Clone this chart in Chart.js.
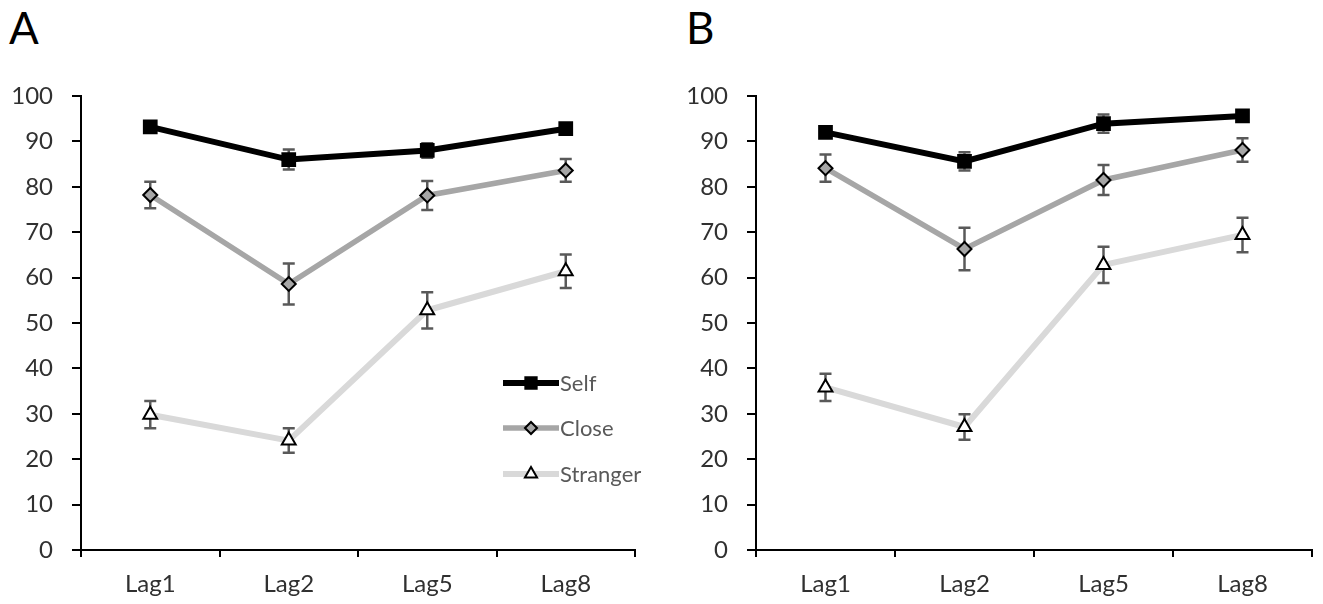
<!DOCTYPE html>
<html>
<head>
<meta charset="utf-8">
<script src="https://cdn.jsdelivr.net/npm/chart.js@4"></script>
<style>
  html, body { margin: 0; padding: 0; background: #fff; }
  body { width: 1323px; height: 604px; position: relative; overflow: hidden; font-family: Lato, "Open Sans", sans-serif; }
  .panel { position: absolute; top: 0; height: 604px; }
  .letter { position: absolute; top: 1px; font-size: 44px; color: #000; }
</style>
</head>
<body>
<div class="letter" style="left:9px">A</div>
<div class="letter" style="left:686px">B</div>
<div class="panel" style="left:0;width:675px"><canvas id="chartA"></canvas></div>
<div class="panel" style="left:675px;width:648px"><canvas id="chartB"></canvas></div>
<script>
// ─── DATA ───
const lags = ['Lag1', 'Lag2', 'Lag5', 'Lag8'];
const seriesNames = ['Self', 'Close', 'Stranger'];

const selfA = [93.2, 86.0, 88.0, 92.8];
const closeA = [78.2, 58.6, 78.1, 83.6];
const strangerA = [29.8, 24.1, 52.8, 61.4];
const selfErrA = [1.0, 2.2, 1.6, 1.0];
const closeErrA = [2.9, 4.5, 3.2, 2.5];
const strangerErrA = [3.0, 2.7, 4.0, 3.7];

const selfB = [92.0, 85.6, 93.9, 95.6];
const closeB = [84.1, 66.3, 81.5, 88.1];
const strangerB = [35.8, 27.1, 62.8, 69.4];
const selfErrB = [1.0, 2.0, 2.0, 1.0];
const closeErrB = [3.0, 4.7, 3.3, 2.6];
const strangerErrB = [3.0, 2.8, 4.0, 3.8];

const yTicks = [0, 10, 20, 30, 40, 50, 60, 70, 80, 90, 100];

// ─── STYLES ───
const styles = [
  { line: '#000000', width: 6, point: 'rect', radius: 9, fill: '#000000' },
  { line: '#a6a6a6', width: 5.5, point: 'rectRot', radius: 7, fill: '#a6a6a6' },
  { line: '#d9d9d9', width: 6, point: 'triangle', radius: 8, fill: '#ffffff' }
];

function makeDatasets(values, errs) {
  return values.map((v, i) => ({
    label: seriesNames[i],
    data: v,
    errors: errs[i],
    borderColor: styles[i].line,
    borderWidth: styles[i].width,
    pointStyle: styles[i].point,
    pointRadius: styles[i].radius,
    pointBackgroundColor: styles[i].fill,
    pointBorderColor: '#000',
    pointBorderWidth: 2,
    tension: 0,
    order: 3 - i
  }));
}

// ─── ERROR BARS ───
const errorBars = {
  id: 'errorBars',
  beforeDatasetsDraw(chart) {
    const ctx = chart.ctx, y = chart.scales.y;
    ctx.save();
    ctx.strokeStyle = '#595959';
    ctx.lineWidth = 2.5;
    chart.data.datasets.forEach((ds, di) => {
      chart.getDatasetMeta(di).data.forEach((pt, i) => {
        const v = ds.data[i], e = ds.errors[i];
        const top = y.getPixelForValue(v + e), bot = y.getPixelForValue(v - e);
        ctx.beginPath();
        ctx.moveTo(pt.x, top); ctx.lineTo(pt.x, bot);
        ctx.moveTo(pt.x - 6, top); ctx.lineTo(pt.x + 6, top);
        ctx.moveTo(pt.x - 6, bot); ctx.lineTo(pt.x + 6, bot);
        ctx.stroke();
      });
    });
    ctx.restore();
  }
};

// ─── LEGEND (panel A only) ───
const innerLegend = {
  id: 'innerLegend',
  afterDraw(chart, args, opts) {
    if (!opts.show) return;
    const ctx = chart.ctx;
    const rows = [383, 428, 474];
    chart.data.datasets.forEach((ds, i) => {
      const yy = rows[i];
      ctx.save();
      ctx.strokeStyle = ds.borderColor;
      ctx.lineWidth = ds.borderWidth;
      ctx.beginPath();
      ctx.moveTo(503, yy); ctx.lineTo(559, yy);
      ctx.stroke();
      ctx.fillStyle = ds.pointBackgroundColor;
      ctx.strokeStyle = '#000';
      ctx.lineWidth = 2;
      Chart.helpers.drawPoint(ctx, { pointStyle: ds.pointStyle, radius: ds.pointRadius - 1, borderWidth: 2 }, 531, yy);
      ctx.fillStyle = '#595959';
      ctx.font = '22px Lato, "Open Sans", sans-serif';
      ctx.textBaseline = 'middle';
      ctx.fillText(ds.label, 560, yy + 1);
      ctx.restore();
    });
  }
};

function makeChart(id, values, errs, padRight, showLegend) {
  return new Chart(document.getElementById(id), {
    type: 'line',
    data: { labels: lags, datasets: makeDatasets(values, errs) },
    plugins: [errorBars, innerLegend],
    options: {
      responsive: false,
      animation: false,
      maintainAspectRatio: false,
      layout: { padding: { top: 96, right: padRight, bottom: 0, left: 0 } },
      plugins: {
        legend: { display: false },
        tooltip: { enabled: false },
        innerLegend: { show: showLegend }
      },
      scales: {
        x: {
          offset: true,
          afterFit: s => { s.height = 54; },
          border: { color: '#000', width: 2 },
          grid: { offset: true, drawOnChartArea: false, drawTicks: true, tickLength: 7, color: '#000', lineWidth: 2 },
          ticks: { color: '#303030', font: { family: 'Lato', size: 24 }, padding: 13 }
        },
        y: {
          min: 0, max: 100,
          afterFit: s => { s.width = 81; },
          afterBuildTicks: s => { s.ticks = yTicks.map(v => ({ value: v })); },
          border: { color: '#000', width: 2 },
          grid: { drawOnChartArea: false, drawTicks: true, tickLength: 9, color: '#000', lineWidth: 2 },
          ticks: { color: '#303030', font: { family: 'Lato', size: 24 }, padding: 19 }
        }
      }
    }
  });
}

function sizeCanvas(id, w) {
  const c = document.getElementById(id);
  c.width = w; c.height = 604;
  c.style.width = w + 'px'; c.style.height = '604px';
}
sizeCanvas('chartA', 675);
sizeCanvas('chartB', 648);

makeChart('chartA', [selfA, closeA, strangerA], [selfErrA, closeErrA, strangerErrA], 40, true);
makeChart('chartB', [selfB, closeB, strangerB], [selfErrB, closeErrB, strangerErrB], 10, false);
</script>
</body>
</html>
